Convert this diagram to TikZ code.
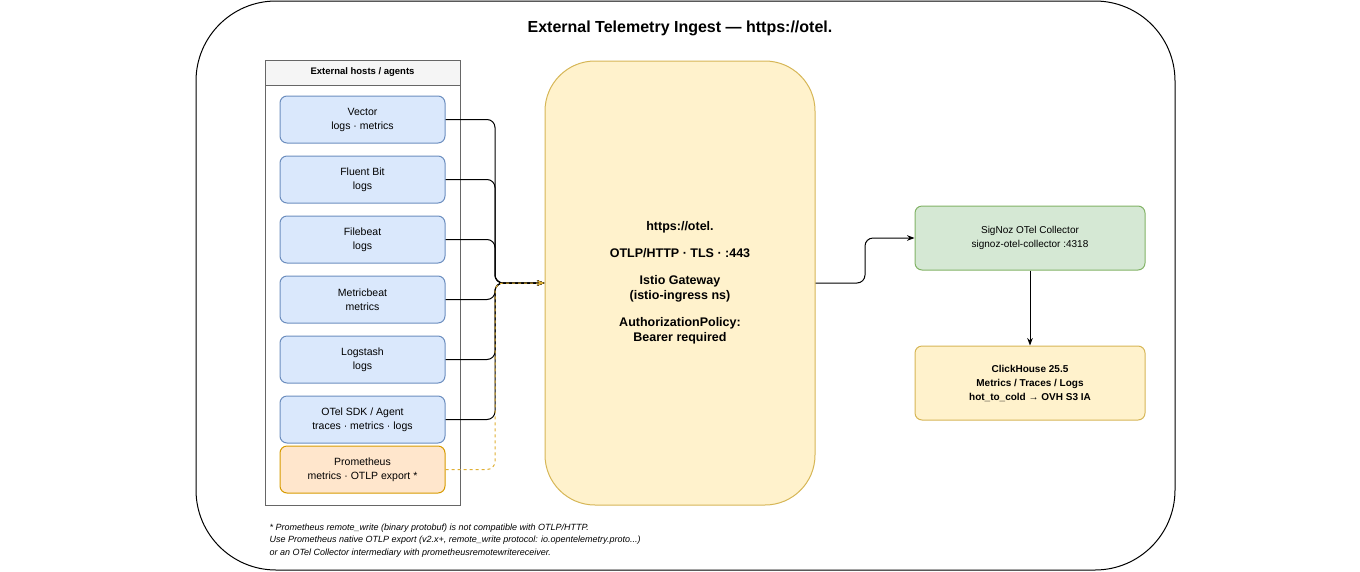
\documentclass[tikz,border=0pt]{standalone}
\usepackage{fontspec}
\setmainfont{Liberation Sans}
\usetikzlibrary{arrows.meta, positioning}

\definecolor{blueFill}{HTML}{DAE8FC}
\definecolor{blueLine}{HTML}{6C8EBF}
\definecolor{orangeFill}{HTML}{FFE6CC}
\definecolor{orangeLine}{HTML}{D79B00}
\definecolor{yellowFill}{HTML}{FFF2CC}
\definecolor{yellowLine}{HTML}{D6B656}
\definecolor{greenFill}{HTML}{D5E8D4}
\definecolor{greenLine}{HTML}{82B366}

\tikzset{
    agent/.style={draw=blueLine, fill=blueFill, line width=1pt, rounded corners=7pt, minimum width=165pt, minimum height=47pt, align=center, font=\fontsize{10.5}{14}\selectfont},
    feed/.style={draw, line width=1pt, rounded corners=8pt, arrows={-Stealth[scale=1]}},
}

\begin{document}
\begin{tikzpicture}[x=1pt, y=-1pt]
    \useasboundingbox (0,0) rectangle (1360,571);
    % Frame and title
    \draw[line width=1pt, rounded corners=80pt] (196,1) rectangle (1175,570);
    \node[font=\fontsize{16}{19}\selectfont\bfseries] (title) at (680,28) {External Telemetry Ingest — https://otel.};

    % Agents container
    \draw[draw=gray!80!black, line width=1pt] (265,60) rectangle (460,505);
    \draw[draw=gray!80!black, line width=1pt, fill=gray!8] (265,60) rectangle (460,85);
    \node[font=\fontsize{9.5}{11}\selectfont\bfseries] (hosts) at (362.5,72.5) {External hosts / agents};

    % Agents
    \node[agent] (vector) at (362.5,119.5) {Vector\\logs · metrics};
    \node[agent] (fluent) at (362.5,179.5) {Fluent Bit\\logs};
    \node[agent] (filebeat) at (362.5,239.5) {Filebeat\\logs};
    \node[agent] (metricbeat) at (362.5,299.5) {Metricbeat\\metrics};
    \node[agent] (logstash) at (362.5,359.5) {Logstash\\logs};
    \node[agent] (otelsdk) at (362.5,419.5) {OTel SDK / Agent\\traces · metrics · logs};
    \node[agent, draw=orangeLine, fill=orangeFill] (prom) at (362.5,469.5) {Prometheus\\metrics · OTLP export *};

    % Gateway and backend
    \node[draw=yellowLine, fill=yellowFill, line width=1pt, rounded corners=50pt, minimum width=270pt, minimum height=444pt, align=center, font=\fontsize{12.5}{15}\selectfont\bfseries] (gateway) at (680,283) {https://otel.\\[12pt]OTLP/HTTP · TLS · :443\\[12pt]Istio Gateway\\(istio-ingress ns)\\[12pt]AuthorizationPolicy:\\Bearer required};
    \node[draw=greenLine, fill=greenFill, line width=1pt, rounded corners=7pt, minimum width=230pt, minimum height=64pt, align=center, font=\fontsize{10}{14}\selectfont] (signoz) at (1030,238) {SigNoz OTel Collector\\signoz-otel-collector :4318};
    \node[draw=yellowLine, fill=yellowFill, line width=1pt, rounded corners=7pt, minimum width=230pt, minimum height=74pt, align=center, font=\fontsize{10}{14}\selectfont\bfseries] (clickhouse) at (1030,383) {ClickHouse 25.5\\Metrics / Traces / Logs\\hot\_to\_cold → OVH S3 IA};

    % Connections
    \foreach \src in {vector, fluent, filebeat, metricbeat, logstash, otelsdk}
        \draw[feed] (\src.east) -| (495,283) -- (gateway.west);
    \draw[feed, draw=orangeLine!80, dashed, arrows={-Stealth[scale=1, fill=orangeLine]}] (prom.east) -| (495,283) -- (gateway.west);
    \draw[feed] (gateway.east) -| (865,238) -- (signoz.west);
    \draw[arrows={-Stealth[scale=1]}, line width=1pt] (signoz.south) -- (clickhouse.north);

    % Footnote
    \node[anchor=north west, align=left, font=\fontsize{9}{12.5}\selectfont\itshape] (note) at (266,520) {* Prometheus remote\_write (binary protobuf) is not compatible with OTLP/HTTP.\\Use Prometheus native OTLP export (v2.x+, remote\_write protocol: io.opentelemetry.proto...)\\or an OTel Collector intermediary with prometheusremotewritereceiver.};
\end{tikzpicture}
\end{document}
